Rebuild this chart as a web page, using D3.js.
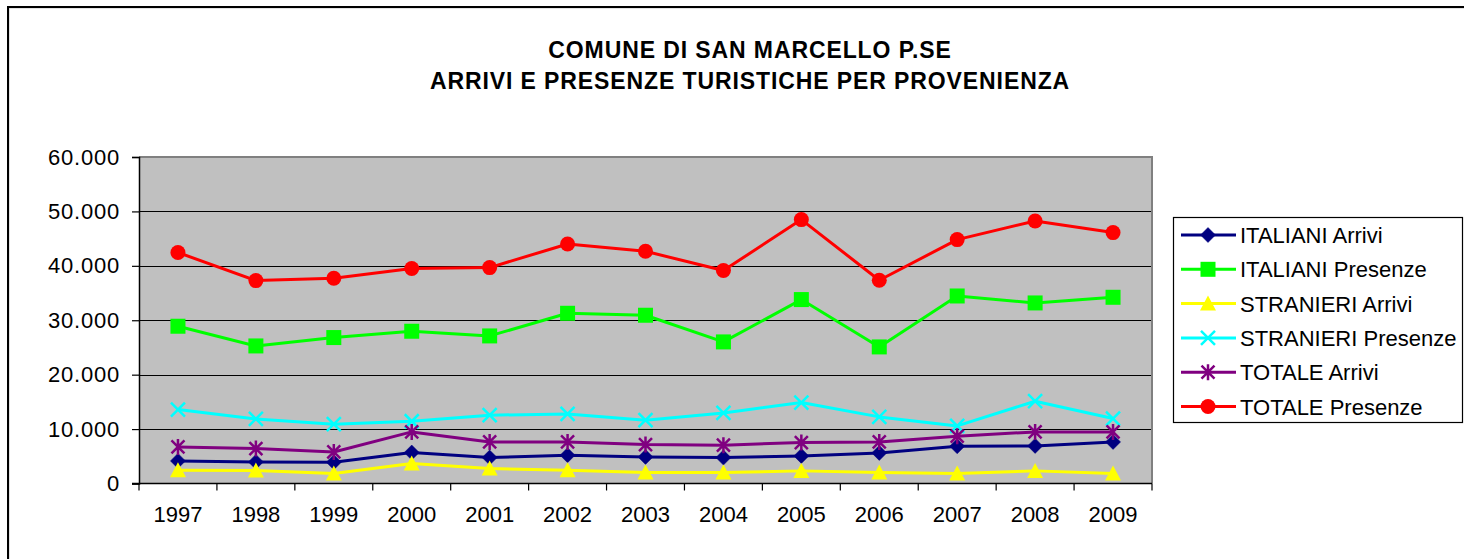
<!DOCTYPE html>
<html>
<head>
<meta charset="utf-8">
<script src="https://cdn.jsdelivr.net/npm/d3@7"></script>
<style>
  html, body { margin: 0; padding: 0; background: #fff; }
  svg { display: block; font-family: "Liberation Sans", Arial, sans-serif; }
</style>
</head>
<body>
<svg id="chart" width="1464" height="559"></svg>
<script>
const years = ["1997","1998","1999","2000","2001","2002","2003","2004","2005","2006","2007","2008","2009"];
const italianiArrivi   = [4150, 3970, 3910, 5690, 4770, 5200, 4890, 4770, 5070, 5620, 6850, 6910, 7640];
const italianiPresenze = [28900, 25280, 26820, 27980, 27120, 31280, 30920, 26020, 33800, 25100, 34460, 33180, 34220];
const stranieriArrivi  = [2440, 2380, 1830, 3670, 2750, 2440, 2020, 2020, 2320, 2020, 1840, 2320, 1840];
const stranieriPresenze= [13590, 11870, 10890, 11440, 12550, 12790, 11630, 12970, 14880, 12240, 10580, 15120, 11940];
const totaleArrivi     = [6720, 6430, 5800, 9480, 7640, 7640, 7160, 7040, 7530, 7640, 8690, 9480, 9480];
const totalePresenze   = [42450, 37290, 37710, 39500, 39680, 44020, 42670, 39130, 48500, 37350, 44820, 48240, 46110];
const yTicks = [0, 10000, 20000, 30000, 40000, 50000, 60000];
const titleLines = ["COMUNE DI SAN MARCELLO P.SE", "ARRIVI E PRESENZE TURISTICHE PER PROVENIENZA"];

const series = [
  {name: "ITALIANI Arrivi",    values: italianiArrivi,    color: "#000080", marker: "diamond"},
  {name: "ITALIANI Presenze",  values: italianiPresenze,  color: "#00FF00", marker: "square"},
  {name: "STRANIERI Arrivi",   values: stranieriArrivi,   color: "#FFFF00", marker: "triangle"},
  {name: "STRANIERI Presenze", values: stranieriPresenze, color: "#00FFFF", marker: "x"},
  {name: "TOTALE Arrivi",      values: totaleArrivi,      color: "#800080", marker: "asterisk"},
  {name: "TOTALE Presenze",    values: totalePresenze,    color: "#FF0000", marker: "circle"}
];

const svg = d3.select("#chart");
const L = 139, R = 1152, T = 157, B = 483.5;

// outer chart border
svg.append("rect").attr("x", 9).attr("y", 8).attr("width", 1470).attr("height", 600)
  .attr("fill", "none").attr("stroke", "#c8c8c8").attr("stroke-width", 1);
svg.append("rect").attr("x", 8).attr("y", 7).attr("width", 1470).attr("height", 600)
  .attr("fill", "none").attr("stroke", "#000").attr("stroke-width", 2);

// title
svg.append("g").selectAll("text").data(titleLines).join("text")
  .attr("x", 750).attr("y", (d, i) => 58 + i * 31)
  .attr("text-anchor", "middle").attr("font-weight", "bold").attr("font-size", 23)
  .attr("letter-spacing", 0.9)
  .attr("fill", "#000").text(d => d);

const x = d3.scaleBand().domain(years).range([L, R]).padding(0);
const y = d3.scaleLinear().domain([0, 60000]).range([B, T]);
const locale = d3.formatLocale({decimal: ",", thousands: ".", grouping: [3], currency: ["", ""]});
const fmt = locale.format(",");

// plot background
svg.append("rect").attr("x", L).attr("y", T).attr("width", R - L).attr("height", B - T).attr("fill", "#C0C0C0");

// gridlines
svg.append("g").selectAll("line").data(yTicks.filter(v => v > 0 && v < 60000)).join("line")
  .attr("x1", L).attr("x2", R).attr("y1", d => Math.round(y(d)) + 0.5).attr("y2", d => Math.round(y(d)) + 0.5)
  .attr("stroke", "#000").attr("stroke-width", 1);

// plot border (top/right gray)
svg.append("path")
  .attr("d", `M${L},${T} L${R},${T} L${R},${B}`)
  .attr("fill", "none").attr("stroke", "#808080").attr("stroke-width", 2);

// y axis
const yAxis = svg.append("g").attr("transform", `translate(${L},0)`)
  .call(d3.axisLeft(y).tickValues(yTicks).tickFormat(d => fmt(d)).tickSize(7).tickPadding(12));
yAxis.select(".domain").attr("stroke", "#000").attr("stroke-width", 1.5);
yAxis.selectAll(".tick line").attr("stroke", "#000").attr("stroke-width", 1.2);
yAxis.selectAll("text").attr("font-size", 22).attr("letter-spacing", 0.8).attr("fill", "#000")
  .attr("font-family", "'Liberation Sans', Arial, sans-serif");

// x axis
const xAxis = svg.append("g").attr("transform", `translate(0,${B})`)
  .call(d3.axisBottom(x).tickSize(0).tickPadding(23));
xAxis.select(".domain").remove();
xAxis.selectAll("text").attr("font-size", 22).attr("fill", "#000")
  .attr("font-family", "'Liberation Sans', Arial, sans-serif");
svg.append("line").attr("x1", L - 7).attr("x2", R).attr("y1", B).attr("y2", B)
  .attr("stroke", "#000").attr("stroke-width", 1.5);
const bounds = years.map(d => x(d)).concat([x(years[years.length - 1]) + x.bandwidth()]);
svg.append("g").selectAll("line").data(bounds).join("line")
  .attr("x1", d => d).attr("x2", d => d).attr("y1", B).attr("y2", B + 7)
  .attr("stroke", "#000").attr("stroke-width", 1.2);

// marker drawing
function drawMarker(g, type, color, cx, cy) {
  const s = 7.5;
  if (type === "diamond") {
    g.append("path").attr("d", `M${cx},${cy - s} L${cx + s},${cy} L${cx},${cy + s} L${cx - s},${cy} Z`)
      .attr("fill", color).attr("stroke", color).attr("stroke-width", 0.5);
  } else if (type === "square") {
    g.append("rect").attr("x", cx - 7.5).attr("y", cy - 7.5).attr("width", 15).attr("height", 15).attr("fill", color);
  } else if (type === "triangle") {
    g.append("path").attr("d", `M${cx},${cy - 8} L${cx + 8},${cy + 7} L${cx - 8},${cy + 7} Z`).attr("fill", color);
  } else if (type === "x") {
    g.append("path").attr("d", `M${cx - 7},${cy - 7} L${cx + 7},${cy + 7} M${cx - 7},${cy + 7} L${cx + 7},${cy - 7}`)
      .attr("stroke", color).attr("stroke-width", 2.5).attr("fill", "none");
  } else if (type === "asterisk") {
    g.append("path").attr("d", `M${cx - 6.5},${cy - 6.5} L${cx + 6.5},${cy + 6.5} M${cx - 6.5},${cy + 6.5} L${cx + 6.5},${cy - 6.5} M${cx},${cy - 8} L${cx},${cy + 8}`)
      .attr("stroke", color).attr("stroke-width", 2.5).attr("fill", "none");
  } else if (type === "circle") {
    g.append("circle").attr("cx", cx).attr("cy", cy).attr("r", 7.5).attr("fill", color);
  }
}

const line = d3.line().x((d, i) => x(years[i]) + x.bandwidth() / 2).y(d => y(d));
series.forEach(s => {
  const g = svg.append("g");
  g.append("path").attr("d", line(s.values)).attr("fill", "none")
    .attr("stroke", s.color).attr("stroke-width", 3).attr("stroke-linejoin", "round");
  s.values.forEach((v, i) => drawMarker(g, s.marker, s.color, x(years[i]) + x.bandwidth() / 2, y(v)));
});

// legend
const lg = svg.append("g");
lg.append("rect").attr("x", 1173.5).attr("y", 217.5).attr("width", 289).attr("height", 205)
  .attr("fill", "#fff").attr("stroke", "#000").attr("stroke-width", 1.2);
series.forEach((s, i) => {
  const cy = 235 + i * 34.3;
  const g = lg.append("g");
  g.append("line").attr("x1", 1181).attr("x2", 1236).attr("y1", cy).attr("y2", cy)
    .attr("stroke", s.color).attr("stroke-width", 3);
  drawMarker(g, s.marker, s.color, 1208, cy);
  g.append("text").attr("x", 1240).attr("y", cy + 8).attr("font-size", 22).attr("fill", "#000").text(s.name);
});
</script>
</body>
</html>
